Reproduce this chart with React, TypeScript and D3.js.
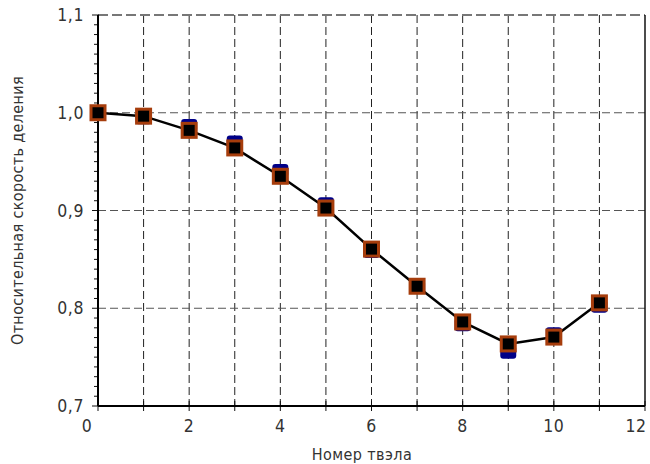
import React from "react";
import * as d3 from "d3";

const nodes = [0, 1, 2, 3, 4, 5, 6, 7, 8, 9, 10, 11];
const seriesCalc = [1.0, 0.9965, 0.982, 0.964, 0.935, 0.9025, 0.8605, 0.8225, 0.786, 0.7635, 0.7705, 0.8055];
const seriesRef = [1.0, 0.995, 0.987, 0.970, 0.941, 0.907, 0.858, 0.8215, 0.783, 0.755, 0.774, 0.802];
const xTicks = [0, 2, 4, 6, 8, 10, 12];
const yTicks = [0.7, 0.8, 0.9, 1.0, 1.1];
const yTickLabels = ["0,7", "0,8", "0,9", "1,0", "1,1"];
const xTitle = "Номер твэла";
const yTitle = "Относительная скорость деления";

const W = 650, H = 464;
const M = { left: 98, right: 645, top: 15, bottom: 406 };
const FONT = "'DejaVu Sans Condensed', 'DejaVu Sans', sans-serif";

export default function App() {
  const x = d3.scaleLinear().domain([0, 12]).range([M.left, M.right]);
  const y = d3.scaleLinear().domain([0.7, 1.1]).range([M.bottom, M.top]);
  const line = d3.line<number>().x((_, i) => x(nodes[i])).y((d) => y(d));
  const minorY = d3.range(0.7, 1.1001, 0.01);
  const allX = d3.range(0, 13, 1);

  return (
    <svg width={W} height={H} style={{ position: "absolute", left: 0, top: 0, display: "block", background: "#fff" }}>
      {d3.range(1, 12).map((v) => (
        <line key={"gx" + v} x1={x(v)} x2={x(v)} y1={M.top} y2={M.bottom} stroke="#222" strokeWidth={1} strokeDasharray="8,4" />
      ))}
      {[0.8, 0.9, 1.0].map((v) => (
        <line key={"gy" + v} x1={M.left} x2={M.right} y1={y(v)} y2={y(v)} stroke="#555" strokeWidth={1} strokeDasharray="8,4" />
      ))}
      <line x1={M.left} x2={M.right} y1={y(1.1)} y2={y(1.1)} stroke="#777" strokeWidth={2} strokeDasharray="10,4" />
      <line x1={M.right} x2={M.right} y1={M.top} y2={M.bottom} stroke="#111" strokeWidth={1.5} />

      {minorY.map((v, i) => (
        <line key={"my" + i} x1={M.left - (i % 10 === 0 ? 6 : 4)} x2={M.left + 1} y1={y(v)} y2={y(v)} stroke="#111" strokeWidth={1} />
      ))}
      {allX.map((v) => (
        <line key={"tx" + v} x1={x(v)} x2={x(v)} y1={M.bottom - 5} y2={M.bottom + 5} stroke="#111" strokeWidth={1} />
      ))}
      <line x1={M.left} x2={M.left} y1={M.top} y2={M.bottom} stroke="#000" strokeWidth={2} />
      <line x1={M.left} x2={M.right} y1={M.bottom} y2={M.bottom} stroke="#000" strokeWidth={2} />

      {yTicks.map((v, i) => (
        <text key={"ly" + v} x={84} y={y(v)} dy="0.35em" textAnchor="end" fontFamily={FONT} fontSize={17.5} letterSpacing={0.6} fill="#333">
          {yTickLabels[i]}
        </text>
      ))}
      {xTicks.map((v, i) => (
        <text key={"lx" + v} x={x(v) + (i === 0 ? -11 : i === xTicks.length - 1 ? -9 : 0)} y={432} textAnchor="middle" fontFamily={FONT} fontSize={17.5} letterSpacing={0.6} fill="#333">
          {v}
        </text>
      ))}

      <text x={362} y={460} textAnchor="middle" fontFamily={FONT} fontSize={16} letterSpacing={0.4} fill="#333">{xTitle}</text>
      <text transform={`translate(23,${(M.top + M.bottom) / 2}) rotate(-90)`} textAnchor="middle" fontFamily={FONT} fontSize={16} letterSpacing={0.35} fill="#333">{yTitle}</text>

      {seriesRef.map((v, i) => (
        <rect key={"b" + i} x={x(nodes[i]) - 8} y={y(v) - 6.5} width={16} height={13} rx={3} fill="#000088" />
      ))}
      <path d={line(seriesCalc) || ""} fill="none" stroke="#000" strokeWidth={2.5} />
      {seriesCalc.map((v, i) => (
        <rect key={"o" + i} x={x(nodes[i]) - 7} y={y(v) - 7} width={14} height={14} fill="#000" stroke="#a63d0c" strokeWidth={3} />
      ))}
    </svg>
  );
}
